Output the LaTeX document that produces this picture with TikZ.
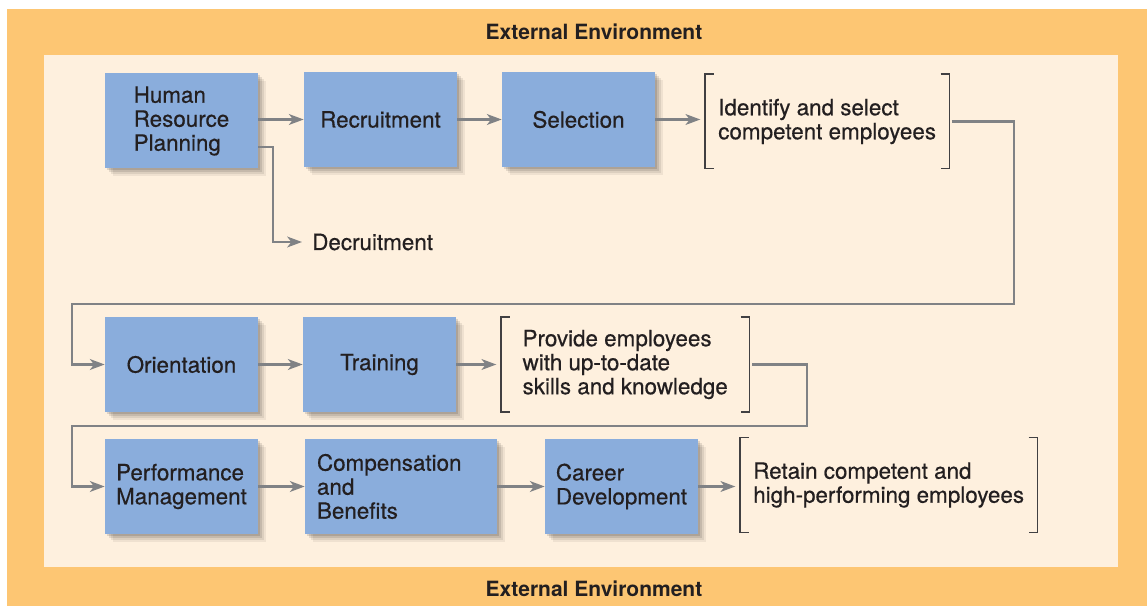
\documentclass[tikz,border=0pt]{standalone}
\usepackage{fontspec}
\setmainfont{TeX Gyre Heros}
\newfontfamily\medfont{TeX Gyre Heros}[FakeBold=0.5]
\usetikzlibrary{arrows.meta,shadows}
\definecolor{envorange}{HTML}{FDC673}
\definecolor{envcream}{HTML}{FEF0DE}
\definecolor{boxblue}{HTML}{8AADDC}
\definecolor{flowgray}{HTML}{808285}
\definecolor{brkgray}{HTML}{414042}
\definecolor{txtdark}{HTML}{231F20}
\newcommand{\goalbrackets}[1]{%
  \draw[brkgray, line width=1.1pt] ([xshift=6.5pt]#1.north west) -| (#1.south west) -- ([xshift=6.5pt]#1.south west);
  \draw[brkgray, line width=1.1pt] ([xshift=-6.5pt]#1.north east) -| (#1.south east) -- ([xshift=-6.5pt]#1.south east);}

\begin{document}
\begin{tikzpicture}[x=0.75pt, y=-0.75pt,
    every node/.style={text=txtdark, font=\medfont\fontsize{16.8}{18}\selectfont},
    hrbox/.style={fill=boxblue, minimum width=114.75pt, minimum height=71.25pt, align=left, inner sep=0pt,
        drop shadow={shadow xshift=6pt, shadow yshift=-6pt, fill=black, opacity=.06},
        drop shadow={shadow xshift=4.5pt, shadow yshift=-4.5pt, fill=black, opacity=.08},
        drop shadow={shadow xshift=3pt, shadow yshift=-3pt, fill=black, opacity=.1},
        drop shadow={shadow xshift=1.5pt, shadow yshift=-1.5pt, fill=black, opacity=.12}},
    goal/.style={anchor=west, align=left, minimum height=70.5pt, inner xsep=9.75pt},
    flow/.style={draw=flowgray, line width=2pt, -{Stealth[length=11pt, width=8pt, inset=3pt]}},
    title/.style={font=\fontsize{15.75}{18}\selectfont\bfseries}]
    \useasboundingbox (0,0) rectangle (1147,606);
    \fill[white] (0,0) rectangle (1147,606);
    \fill[envorange] (7,9) rectangle (1147,606);
    \fill[envcream] (44,55) rectangle (1118,567);
    \node[title] (top) at (594,32) {External Environment};
    \node[title] (bot) at (594,589) {External Environment};

    \node[hrbox] (hrp) at (181.5,121) {Human\\Resource\\Planning};
    \node[hrbox] (rec) at (380.5,119.5) {Recruitment};
    \node[hrbox] (sel) at (578.5,119.5) {Selection};
    \node[goal] (b1) at (705,121.5) {Identify and select\\competent employees};
    \node[anchor=west, inner xsep=7.5pt] (dec) at (302,242) {Decruitment};

    \node[hrbox] (ori) at (181.5,364.5) {Orientation};
    \node[hrbox] (tra) at (379.5,364.5) {Training};
    \node[goal, inner xsep=16pt] (b2) at (501,364.5) {Provide employees\\with up-to-date\\skills and knowledge};

    \node[hrbox] (pm) at (181.5,486.5) {Performance\\Management};
    \node[hrbox, minimum width=144pt, text width=126pt] (cb) at (401,486.5) {Compensation\\and\\Benefits};
    \node[hrbox] (cd) at (621.5,486.5) {Career\\Development};
    \node[goal] (b3) at (740,485) {Retain competent and\\high-performing employees};

    \goalbrackets{b1}
    \goalbrackets{b2}
    \goalbrackets{b3}

    \coordinate (r1) at (1014,304);
    \coordinate (l1) at (72,304);
    \coordinate (r2) at (807,426);
    \coordinate (l2) at (72,426);

    \draw[flow] (hrp.east |- rec) -- (rec);
    \draw[flow] (rec) -- (sel);
    \draw[flow, shorten >=3.5pt] (sel.east) -- (sel.east -| b1.west);
    \draw[flow] ([yshift=-19.5pt]hrp.east) -| ([xshift=-21.75pt]dec.west) -- (dec.west);
    \draw[flow, shorten <=2pt] (b1.east) -| (r1) -- (l1) |- (ori.west);
    \draw[flow] (ori) -- (tra);
    \draw[flow, shorten >=3.5pt] (tra.east) -- (tra.east -| b2.west);
    \draw[flow, shorten <=2pt] (b2.east) -| (r2) -- (l2) |- (pm.west);
    \draw[flow] (pm) -- (cb);
    \draw[flow] (cb) -- (cd);
    \draw[flow, shorten >=3.5pt] (cd.east) -- (cd.east -| b3.west);
\end{tikzpicture}
\end{document}
